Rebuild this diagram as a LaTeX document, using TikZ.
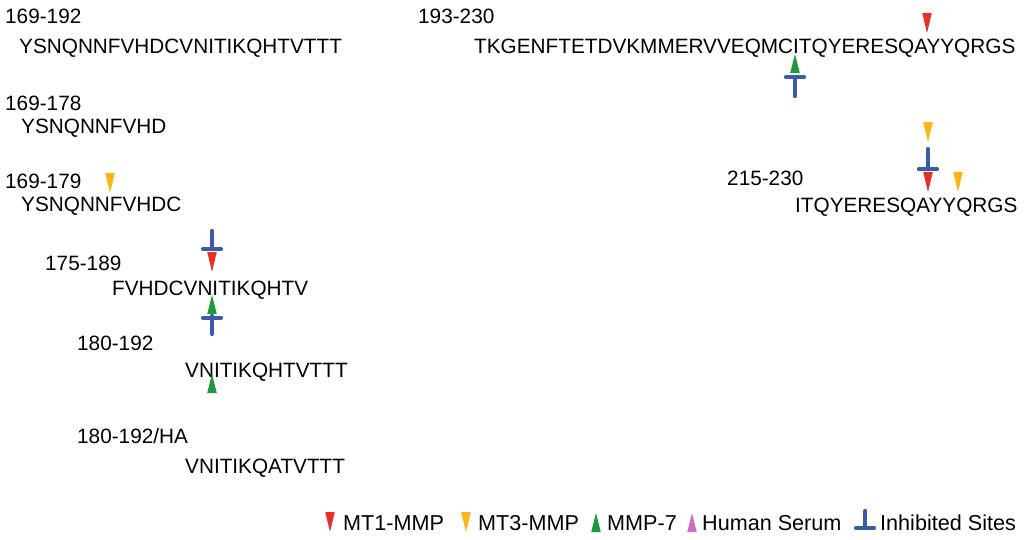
\documentclass[tikz,border=0pt]{standalone}
\usepackage{fontspec}
\setmainfont{Liberation Sans}
\definecolor{cRed}{HTML}{E8302A}
\definecolor{cOrange}{HTML}{FDB515}
\definecolor{cGreen}{HTML}{1E9A3C}
\definecolor{cPink}{HTML}{CC6FC0}
\definecolor{cBlue}{HTML}{3B5BAA}
\newcommand\dtri[3]{\fill[#1] ({#2-4.8},#3) -- ({#2+4.8},#3) -- (#2,{#3+20}) -- cycle;}
\newcommand\utri[3]{\fill[#1] ({#2-4.8},#3) -- ({#2+4.8},#3) -- (#2,{#3-19}) -- cycle;}
\begin{document}
\begin{tikzpicture}[x=1pt,y=-1pt,
  txt/.style={anchor=base west, inner sep=0pt, font=\fontsize{20.75}{24}\selectfont, text=black},
  leg/.style={txt, font=\fontsize{21.6}{24}\selectfont},
  inhib/.style={draw=cBlue, line width=4.2pt, line cap=round}]
\useasboundingbox (0,0) rectangle (1024,539);
% left column
\node[txt] (l1) at (5,23) {169-192};
\node[txt] (s1) at (19,53) {YSNQNNFVHDCVNITIKQHTVTTT};
\node[txt] (l2) at (5,110) {169-178};
\node[txt] (s2) at (21,133) {YSNQNNFVHD};
\node[txt] (l3) at (5,188) {169-179};
\node[txt] (s3) at (21,211) {YSNQNNFVHDC};
\node[txt] (l4) at (45,270) {175-189};
\node[txt] (s4) at (112,295) {FVHDCVNITIKQHTV};
\node[txt] (l5) at (77,350) {180-192};
\node[txt] (s5) at (185,377) {VNITIKQHTVTTT};
\node[txt] (l6) at (77,443) {180-192/HA};
\node[txt] (s6) at (185,473) {VNITIKQATVTTT};
% right column
\node[txt] (l7) at (418,23) {193-230};
\node[txt] (s7) at (474,53) {TKGENFTETDVKMMERVVEQMCITQYERESQAYYQRGS};
\node[txt] (l8) at (727,185) {215-230};
\node[txt] (s8) at (795,212) {ITQYERESQAYYQRGS};
% markers left
\dtri{cOrange}{110}{173}
\draw[inhib] (212,231) -- (212,249);
\draw[inhib] (203,249) -- (221,249);
\dtri{cRed}{212}{252}
\utri{cGreen}{212}{314}
\draw[inhib] (203,318) -- (221,318);
\draw[inhib] (212,316) -- (212,334);
\utri{cGreen}{212}{393}
% markers right
\dtri{cRed}{927}{13}
\utri{cGreen}{795}{73}
\draw[inhib] (786,77) -- (804,77);
\draw[inhib] (795,77) -- (795,96);
\dtri{cOrange}{928}{122}
\draw[inhib] (928,149) -- (928,169);
\draw[inhib] (919,169) -- (937,169);
\dtri{cRed}{928}{172}
\dtri{cOrange}{958}{172}
% legend
\dtri{cRed}{330}{512}
\node[leg] (g1) at (343,530) {MT1-MMP};
\dtri{cOrange}{466}{512}
\node[leg] (g2) at (478,530) {MT3-MMP};
\utri{cGreen}{596}{532}
\node[leg] (g3) at (607,530) {MMP-7};
\utri{cPink}{692}{532}
\node[leg] (g4) at (702,530) {Human Serum};
\draw[inhib] (865,511) -- (865,528);
\draw[inhib] (856,528) -- (874,528);
\node[leg] (g5) at (880,530) {Inhibited Sites};
\end{tikzpicture}
\end{document}
